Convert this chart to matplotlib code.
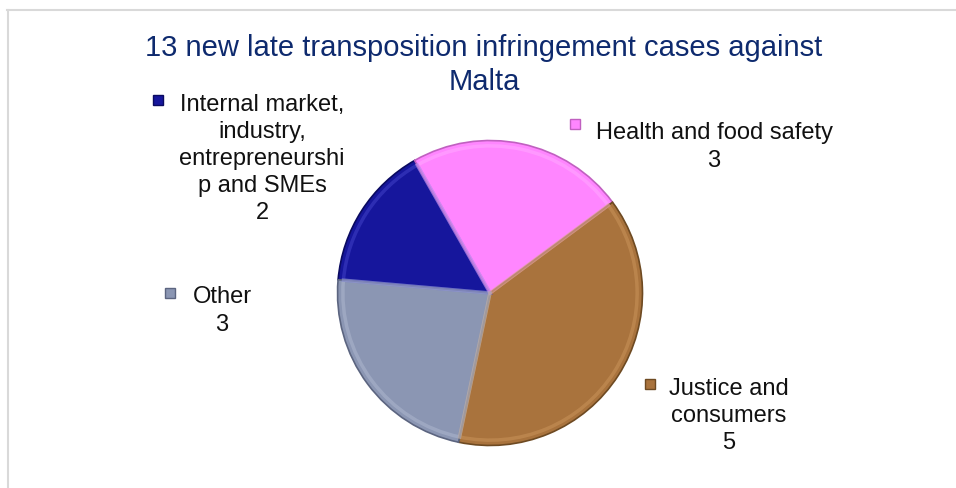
import numpy as np
import matplotlib
matplotlib.use("Agg")
import matplotlib.pyplot as plt
from matplotlib.patches import Rectangle
from matplotlib.lines import Line2D

# data
categories = ["Internal market,\nindustry,\nentrepreneurshi\np and SMEs",
              "Health and food safety",
              "Justice and\nconsumers",
              "Other"]
cases = [2, 3, 5, 3]
colors = ["#16169c", "#ff86ff", "#a9733d", "#8b96b3"]
edges = ["#0a0a60", "#c060c0", "#6e4a22", "#5c6580"]
lights = ["#4a4ad0", "#ffb0ff", "#d09a60", "#b4bdd4"]
title = "13 new late transposition infringement cases against\nMalta"

plt.rcParams['font.family'] = ['Liberation Sans', 'DejaVu Sans']

W, H = 956, 489
fig = plt.figure(figsize=(W / 100, H / 100), dpi=100)


def fx(px):
    return px / W


def fy(py):
    return 1 - py / H


# frame lines (chart area border, partly cut off)
fig.add_artist(Line2D([fx(7), 1], [fy(11), fy(11)], color="#d9d9d9", lw=1.5))
fig.add_artist(Line2D([fx(8), fx(8)], [0, fy(11)], color="#d9d9d9", lw=1.5))

# pie
cx, cy, r = 490, 294, 154
ax = fig.add_axes([fx(cx - r), fy(cy + r), 2 * r / W, 2 * r / H])
wedges, _ = ax.pie(cases, colors=colors, startangle=175, counterclock=False,
                   wedgeprops=dict(linewidth=1.2))
for w, ec in zip(wedges, edges):
    w.set_edgecolor(ec)
# soft bevel highlight near the rim
rims, _ = ax.pie(cases, colors=lights, startangle=175, counterclock=False,
                 radius=0.965, wedgeprops=dict(linewidth=2.5, fill=False))
for w, lc in zip(rims, lights):
    w.set_edgecolor(lc)
    w.set_alpha(0.45)
ax.set_xlim(-1.01, 1.01)
ax.set_ylim(-1.01, 1.01)
ax.set_aspect("equal")
ax.axis("off")

# title
fig.text(fx(484), fy(65), title, ha="center", va="center", fontsize=21,
         color="#0e2a6e", linespacing=1.3)

# data labels: (text block centre x, y, marker x, marker y)
label_pos = [(262, 159, 158, 101),
             (714, 147, 575, 125),
             (729, 416, 650, 385),
             (222, 311, 170, 294)]
for name, val, col, ec, (tx, ty, mx, my) in zip(categories, cases, colors, edges, label_pos):
    fig.text(fx(tx), fy(ty), f"{name}\n{val}", ha="center", va="center",
             fontsize=17, color="#111111", linespacing=1.3)
    s = 10
    fig.add_artist(Rectangle((fx(mx - s / 2), fy(my + s / 2)), s / W, s / H,
                             facecolor=col, edgecolor=ec, lw=1))

fig.savefig("out.png", dpi=100)
